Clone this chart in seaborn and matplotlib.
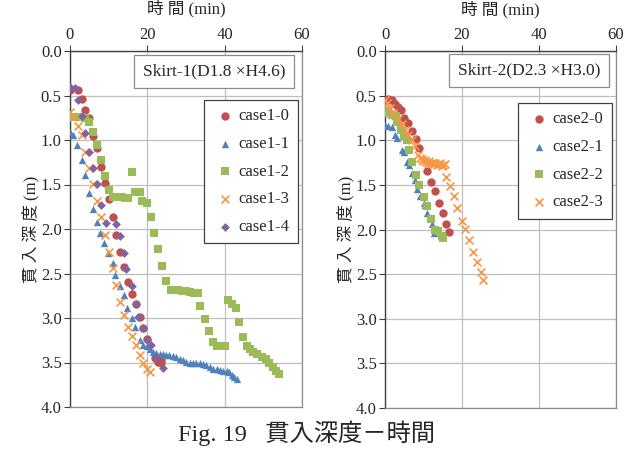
import matplotlib
matplotlib.use("Agg")
import matplotlib.pyplot as plt
import seaborn as sns
import pandas as pd

sns.set_theme(style="white")
plt.rcParams['font.family'] = ['Liberation Serif', 'Noto Sans CJK JP', 'DejaVu Sans']

# --- Skirt-1 データ (時間 min, 貫入深度 m) ---
c10_t = [0, 2, 3, 4, 4.9, 6, 6.9, 8, 9, 10, 11, 12, 13, 14, 15, 16, 17, 18, 19, 20, 22, 22.7, 23.5, 23.5]
c10_d = [0.44, 0.44, 0.54, 0.66, 0.75, 0.96, 1.09, 1.30, 1.48, 1.66, 1.86, 2.07, 2.26, 2.43, 2.60, 2.73, 2.84, 2.99, 3.11, 3.24, 3.45, 3.49, 3.51, 3.47]

c11_t = [0, 0.7, 1.9, 3, 4, 5, 6, 7, 7.8, 8.8, 9.8, 11, 11.6, 12.9, 13.9, 14.8, 16, 16.8, 18, 19, 19.8, 20.6,
         21.5, 22.3, 23.2, 24, 24.9, 25.7, 26.6, 27.5, 28.4, 29.2, 30.1, 31, 31.8, 32.7, 33.6, 34.4, 35.3,
         36.2, 37, 37.9, 38.7, 39.6, 40.5, 41.2, 41.8, 42.5, 43.1]
c11_d = [0.91, 0.94, 1.06, 1.22, 1.39, 1.59, 1.77, 1.92, 2.04, 2.16, 2.27, 2.38, 2.52, 2.64, 2.74, 2.89, 3.00, 3.10, 3.25, 3.30, 3.32, 3.35,
         3.38, 3.39, 3.40, 3.41, 3.42, 3.42, 3.43, 3.44, 3.46, 3.47, 3.49, 3.50, 3.50, 3.50, 3.51, 3.52, 3.53,
         3.55, 3.57, 3.57, 3.58, 3.59, 3.60, 3.61, 3.64, 3.66, 3.69]

c12_t = [0, 1.3, 3, 4, 5, 6, 7, 8, 9, 10, 11, 11.8, 12.6, 13.4, 14.2, 15, 16, 16.8, 18, 18.7, 20, 21, 21.7, 22.8, 23.8, 24.8,
         26, 27, 28, 29, 30, 31, 32, 33, 33.5, 34.9, 36, 36.9, 37.9, 39, 40, 40.9, 41.8, 42.9, 43.8, 44.8, 45.7,
         46.5, 47.4, 48.4, 49.6, 50.7, 51.5, 52.4, 53.2, 54.1]
c12_d = [0.74, 0.74, 0.74, 0.75, 0.80, 0.91, 1.06, 1.22, 1.40, 1.56, 1.64, 1.64, 1.64, 1.64, 1.65, 1.65, 1.36, 1.58, 1.58, 1.69, 1.71, 1.87, 2.04, 2.23, 2.42, 2.58,
         2.68, 2.68, 2.69, 2.70, 2.70, 2.71, 2.72, 2.72, 2.87, 3.01, 3.15, 3.27, 3.32, 3.32, 3.32, 2.80, 2.84, 2.89, 3.05, 3.21, 3.32,
         3.35, 3.38, 3.41, 3.44, 3.46, 3.51, 3.55, 3.59, 3.63]

c13_t = [0, 0.7, 2, 3, 4, 5, 6, 7, 8, 9, 10, 11, 12, 13, 14, 15, 16, 17, 18, 19, 20, 20.7]
c13_d = [0.68, 0.74, 0.84, 0.94, 1.13, 1.32, 1.49, 1.69, 1.86, 2.07, 2.26, 2.44, 2.63, 2.82, 2.97, 3.10, 3.20, 3.30, 3.42, 3.50, 3.57, 3.61]

c14_t = [0, 1.3, 2, 3, 4, 5, 6, 7, 8, 9.3, 12, 13, 14, 14.5, 16, 17, 17.7, 19, 20, 21, 22.3, 24]
c14_d = [0.40, 0.42, 0.55, 0.73, 0.92, 1.13, 1.31, 1.49, 1.73, 1.93, 1.94, 2.08, 2.27, 2.45, 2.64, 2.84, 2.99, 3.11, 3.25, 3.30, 3.44, 3.56]

# --- Skirt-2 データ ---
c20_t = [0, 0.9, 1.7, 2.6, 3.3, 4.1, 4.9, 5.9, 6.9, 8.1, 8.9, 10.8, 12, 13, 13.9, 15, 15.9, 16.7]
c20_d = [0.55, 0.54, 0.55, 0.59, 0.63, 0.66, 0.75, 0.81, 0.90, 0.99, 1.09, 1.34, 1.47, 1.57, 1.70, 1.82, 1.94, 2.03]

c21_t = [0, 0.9, 1.7, 2.6, 3.2, 4.3, 5.0, 5.8, 6.3, 6.9, 7.8, 8.4, 9.2, 10.0, 10.4, 11, 12.1, 12.7]
c21_d = [0.83, 0.84, 0.85, 0.94, 0.97, 1.11, 1.13, 1.24, 1.28, 1.37, 1.45, 1.55, 1.62, 1.70, 1.73, 1.82, 1.94, 2.04]

c22_t = [0, 0.9, 1.9, 2.8, 3.2, 4.1, 4.9, 5.6, 6.3, 6.9, 8.1, 8.9, 10, 11, 11.9, 13, 13.8, 14.7, 15]
c22_d = [0.67, 0.70, 0.72, 0.73, 0.79, 0.88, 0.95, 1.00, 1.11, 1.24, 1.39, 1.50, 1.64, 1.74, 1.88, 2.00, 2.02, 2.07, 2.10]

c23_t = [0, 0.6, 1.3, 2.2, 3.5, 4.3, 5.2, 6.1, 6.9, 7.8, 8.7, 9.1, 9.5, 9.9, 10.3, 10.7, 11.1, 11.5, 11.9, 12.3,
         12.7, 13.1, 13.5, 13.9, 14.3, 14.7, 15.1, 15.5, 15.8, 16.9, 17.9, 18.8, 19.9, 20.8, 21.9, 22.9, 23.8, 24.9, 25.4]
c23_d = [0.55, 0.58, 0.64, 0.70, 0.76, 0.82, 0.88, 0.94, 1.00, 1.07, 1.17, 1.20, 1.21, 1.23, 1.22, 1.24, 1.25, 1.23, 1.26, 1.25,
         1.27, 1.26, 1.28, 1.27, 1.26, 1.29, 1.28, 1.27, 1.41, 1.51, 1.62, 1.76, 1.90, 1.99, 2.12, 2.25, 2.36, 2.48, 2.57]

RED, BLUE, GREEN, ORANGE, PURPLE = '#C0504D', '#4F81BD', '#9BBB59', '#F79646', '#8064A2'

left_series = [
    ('case1-0', c10_t, c10_d, 'o', RED, 36),
    ('case1-1', c11_t, c11_d, '^', BLUE, 28),
    ('case1-2', c12_t, c12_d, 's', GREEN, 34),
    ('case1-3', c13_t, c13_d, 'x', ORANGE, 32),
    ('case1-4', c14_t, c14_d, 'D', PURPLE, 20),
]
right_series = [
    ('case2-0', c20_t, c20_d, 'o', RED, 36),
    ('case2-1', c21_t, c21_d, '^', BLUE, 28),
    ('case2-2', c22_t, c22_d, 's', GREEN, 34),
    ('case2-3', c23_t, c23_d, 'x', ORANGE, 32),
]

FS = 12

fig = plt.figure(figsize=(6.33, 4.54), dpi=100)
ax1 = fig.add_axes([70 / 633, 1 - 407 / 454, 232 / 633, 356 / 454])
ax2 = fig.add_axes([385 / 633, 1 - 408 / 454, 231 / 633, 357 / 454])


def draw(ax, series, title, box_xy, leg_anchor, xlab_y):
    for name, t, d, mk, col, s in series:
        df = pd.DataFrame({'t': t, 'd': d})
        if mk == 'x':
            sns.scatterplot(data=df, x='t', y='d', ax=ax, marker='x', color=col, s=s,
                            linewidth=1.2, label=name, zorder=3)
        else:
            sns.scatterplot(data=df, x='t', y='d', ax=ax, marker=mk, color=col, s=s,
                            linewidth=0, label=name, zorder=3)
    ax.set_xlim(0, 60)
    ax.set_ylim(4.0, 0.0)
    ax.set_xticks([0, 20, 40, 60])
    ax.set_yticks([0.0, 0.5, 1.0, 1.5, 2.0, 2.5, 3.0, 3.5, 4.0])
    ax.set_yticklabels([f'{v:.1f}' for v in ax.get_yticks()])
    ax.xaxis.tick_top()
    ax.xaxis.set_label_position('top')
    ax.grid(True, color='#bfbfbf', linewidth=0.9)
    ax.set_axisbelow(True)
    ax.tick_params(axis='both', which='both', direction='out', length=4, width=0.8,
                   color='#404040', labelsize=FS, top=True, left=True)
    ax.tick_params(axis='x', pad=1.5)
    ax.tick_params(axis='y', pad=2)
    for side in ['left', 'top']:
        ax.spines[side].set_color('#404040')
        ax.spines[side].set_linewidth(1.0)
    for side in ['right', 'bottom']:
        ax.spines[side].set_color('#8c8c8c')
        ax.spines[side].set_linewidth(0.9)
    ax.set_xlabel('時 間 (min)', fontsize=FS)
    ax.xaxis.label.set_va('center')
    ax.xaxis.set_label_coords(0.5, xlab_y)
    ax.set_ylabel('貫 入 深 度 (m)', fontsize=FS, labelpad=1)
    ax.text(box_xy[0], box_xy[1], title, transform=ax.transAxes, ha='center', va='center',
            fontsize=12.5, zorder=5,
            bbox=dict(boxstyle='square,pad=0.5', facecolor='white', edgecolor='#8c8c8c', linewidth=0.9))
    leg = ax.legend(loc='upper right', bbox_to_anchor=leg_anchor, fontsize=FS, frameon=True,
                    fancybox=False, edgecolor='#404040', framealpha=1, borderpad=0.5,
                    labelspacing=0.7, handletextpad=0.1, handlelength=1.5, markerscale=1.0,
                    borderaxespad=0)
    leg.get_frame().set_linewidth(0.9)
    leg.set_zorder(6)


draw(ax1, left_series, 'Skirt-1(D1.8 ×H4.6)', (0.62, 0.942), (0.983, 0.862), 1.118)
draw(ax2, right_series, 'Skirt-2(D2.3 ×H3.0)', (0.623, 0.945), (0.983, 0.854), 1.117)

fig.text(306 / 633, 1 - 433 / 454, 'Fig. 19   貫入深度－時間', ha='center', va='center', fontsize=17.5)

fig.savefig('out.png', dpi=100)
